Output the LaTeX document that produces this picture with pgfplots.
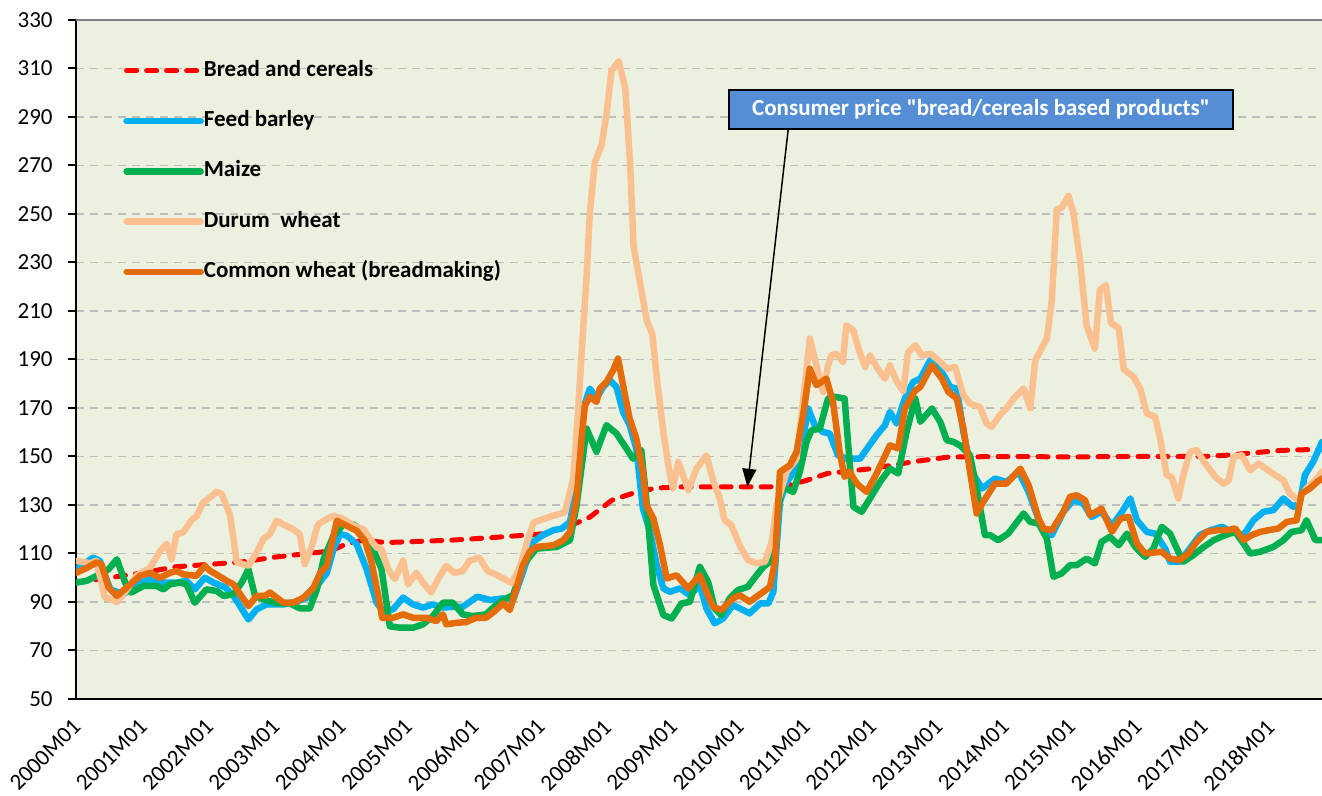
\documentclass[border=0pt]{standalone}
\usepackage{pgfplots}
\pgfplotsset{compat=1.18}
\usepackage{fontspec}
\setmainfont{Carlito}
\newfontfamily\nomapfont{Carlito}[Ligatures=TeXOff]
\usetikzlibrary{arrows.meta}
\definecolor{bgc}{RGB}{235,241,222}
\definecolor{gridc}{RGB}{190,190,190}
\definecolor{cbarley}{RGB}{0,176,240}
\definecolor{cmaize}{RGB}{0,176,80}
\definecolor{cdurum}{RGB}{250,192,144}
\definecolor{cwheat}{RGB}{228,108,10}
\definecolor{cbox}{RGB}{85,142,213}
\newcommand\fs{\fontsize{11.5}{13.8}\selectfont}
\begin{document}
\begin{tikzpicture}
\path[use as bounding box] (0,0) rectangle (661pt,398pt);
\begin{axis}[
  at={(38pt,48.5pt)}, anchor=south west,
  scale only axis, width=623pt, height=339.5pt,
  xmin=0, xmax=225.5, ymin=50, ymax=330,
  axis x line*=bottom, axis y line*=left,
  axis line style={black, line width=1pt, -},
  axis background/.style={fill=bgc},
  ytick={50,70,...,330},
  xtick={0,12,...,216},
  xticklabels={2000M01,2001M01,2002M01,2003M01,2004M01,2005M01,2006M01,2007M01,2008M01,2009M01,2010M01,2011M01,2012M01,2013M01,2014M01,2015M01,2016M01,2017M01,2018M01},
  ymajorgrids,
  major grid style={color=gridc, line width=0.85pt, dash pattern=on 4pt off 3pt},
  tick align=outside,
  major tick length=4pt,
  y tick style={black, line width=1pt},
  x tick style={draw=none},
  /pgf/number format/assume math mode=true,
  ticklabel style={font=\fs, black},
  yticklabel style={inner sep=0pt, xshift=-7.5pt},
  xticklabel style={inner sep=0pt, xshift=0.5pt, yshift=-8pt, rotate=45, anchor=east},
  legend style={at={(0.0377,0.941)}, anchor=north west, draw=none, fill=none,
    font=\fs\bfseries, row sep=14.6pt, inner sep=0pt,
    nodes={inner sep=0pt, text height=8pt, text depth=2.5pt},
    /tikz/every even column/.append style={column sep=1.5pt}},
  legend image code/.code={\draw[#1] (0pt,0pt) -- (37pt,0pt);},
  legend cell align=left,
  every axis plot/.append style={line join=round, line cap=round},
]
% Bread and cereals
\addplot[red, line width=2.5pt, dash pattern=on 5pt off 5pt] coordinates {
(0,98) (6,100) (12,102) (18,104.5) (24,105.5) (30,106.5) (36,108.5) (42,110) (46,111) (49,114) (52,115.5) (56,114.5) (62,115) (68,115.5) (75,116.5) (84,118) (89,121) (93,125) (97,132) (101,135) (105,137) (110,137.5) (120,137.5) (128,137.5) (132,140) (136,143) (144,145) (152,148) (158,149.8) (170,150) (180,149.8) (190,150) (200,150) (204,150) (208,150.5) (213,151.5) (218,152.5) (225.5,153)
};
\addlegendentry{Bread and cereals}
% Feed barley
\addplot[cbarley, line width=3.25pt] coordinates {
(0,103.5) (3.1,108.3) (4.3,107) (6.2,95.2) (8.6,93.2) (11,97.3) (13.4,99.4) (15.8,98) (18.2,98) (20,98.7) (21.5,95.2) (23.3,100) (24.9,98) (27,96) (28.5,92.5) (29.7,88.3) (31.2,82.8) (32.7,87) (34.5,89) (37.5,89) (39.3,89.7) (41.8,91.8) (43.6,96.6) (45.4,102) (46.6,111.8) (47.8,118) (49,117.3) (50.8,113.9) (52.6,103.5) (54.4,89.7) (55.6,86.3) (57.4,87) (59.2,91.8) (61,89) (62.8,87.7) (64.6,89) (66.4,87.7) (68.2,88) (70,88) (72.6,92.2) (75,90.8) (77.3,91.5) (79.1,90.8) (80.9,102.4) (82.7,114.8) (84.5,117.6) (86.4,119.6) (87.9,120.3) (89.4,123) (90.6,138.2) (91.8,169.8) (93,178) (94.2,173.9) (95.4,178.7) (96.6,181.4) (97.8,178.7) (99,168.4) (100.2,162.9) (101.4,153.3) (102.6,128.5) (103.9,118.9) (105.1,105.2) (106.3,95.6) (107.5,94.2) (109.3,95.6) (111.1,92.8) (112.9,96.9) (114.1,87.3) (115.6,81.2) (117.1,83.2) (118.9,88.7) (120.7,86.7) (121.9,85.3) (123.8,89.4) (125.3,89.4) (126.2,94.2) (127.4,131.3) (128.6,139.5) (130.4,145) (131.6,157.4) (132.5,169.8) (133.7,162.9) (135.2,160.1) (136.4,159.5) (137.9,150.5) (139.4,149.1) (141.9,149.1) (143.4,154) (144.9,158.8) (146.4,162.9) (147.3,168.4) (148.5,163.6) (150,173.9) (151.5,180.7) (152.8,182.1) (154.6,189.7) (156.7,184.9) (158.2,178.7) (159.4,178) (160.6,160.1) (162.1,143.7) (164,136.8) (166.3,140.9) (168.4,139.5) (170.6,143.7) (172.4,135.4) (174.8,120.3) (176.6,117.6) (178.7,127.2) (180.5,132) (182.3,130.6) (183.8,125.1) (185.6,127.2) (187.5,121.5) (189.3,127.2) (190.8,132.7) (192,123.7) (193.8,118.9) (195.3,118.2) (197.1,112.1) (198,106.6) (199.8,106.6) (201.6,112.1) (203.4,117.6) (205.3,119.6) (207.4,121) (209.2,118.9) (211.3,117.6) (213.1,123.7) (214.9,127.2) (216.7,127.9) (218.5,132.7) (220.3,129.2) (221.5,131.3) (222.4,142.3) (223.9,147.8) (225.5,156)
};
\addlegendentry{Feed barley}
% Maize
\addplot[cmaize, line width=3.25pt] coordinates {
(0,98) (1.9,98.7) (4.3,101.4) (5.9,103.5) (7.4,107.6) (8.9,98) (10,93.9) (12.2,96.6) (14.6,96.6) (15.8,95.2) (17,97.3) (18.8,98) (20,97.3) (21.5,89.7) (23.6,95.2) (25.5,94.5) (26.7,92.5) (28.5,93.2) (30,98) (31.2,103.5) (32.4,92.5) (33.9,91.1) (36.3,89.5) (38.7,89.4) (40.5,87.4) (42.3,87.4) (43.6,95.2) (44.8,107.6) (46.6,117.3) (48.4,122) (50.2,122) (52,118.7) (53.8,111.8) (55.3,103.5) (56.8,80) (58.6,79.4) (61,79.4) (62.8,80.8) (64.6,84.2) (66.4,89.7) (68.2,89.7) (70,84.9) (71.8,84.2) (74.2,84.9) (75.8,88.3) (77.3,90.8) (79.1,92.8) (80.9,105.2) (83.3,112) (87,112.7) (89.4,115.5) (90.6,129.9) (92.4,161.5) (94.2,151.9) (96,162.9) (97.8,159.5) (99.6,153.3) (100.8,149.1) (102.3,152.6) (103.2,132.7) (104.5,97) (106.3,84.6) (107.8,83.2) (109.6,89.4) (111.1,90.1) (112.9,104.5) (114.4,98.3) (115.6,87.3) (116.8,84.6) (118.3,91.5) (119.8,94.9) (121.6,96.3) (123.2,101.1) (124.4,104.5) (125.6,106.6) (126.5,118.9) (127.7,137.5) (129.8,135.4) (131,143.7) (132.2,156) (133.1,160.8) (134.6,161.5) (136.1,173.9) (137.3,174.6) (139.1,173.9) (140,147.8) (140.7,129.2) (142.2,127.2) (143.7,132.7) (145.5,139.5) (147.3,145) (148.8,143) (150.3,160.1) (151.9,173.9) (152.8,164.3) (154.9,169.8) (156.4,164.3) (157.6,156.7) (158.8,156) (160,154.6) (161.8,150.5) (163,136.8) (164.5,117.6) (165.4,117.6) (166.9,115.5) (168.7,118.2) (170.3,123) (171.5,126.5) (172.7,123) (174.2,122.4) (175.7,116.2) (176.9,100.4) (178.4,101.8) (179.9,105.2) (181.1,105.2) (182.9,107.9) (184.4,105.9) (185.6,114.8) (187.1,116.9) (188.7,113.4) (190.2,118.2) (191.7,112.7) (193.5,108.6) (195,112.1) (196.5,121) (198,118.2) (199.5,110.7) (200.4,106.6) (202.2,109.3) (204.1,112.7) (205.9,115.5) (208,117.6) (209.8,118.9) (211.3,114.1) (212.5,110) (214.3,110.7) (216.7,112.7) (218.5,115.5) (220,118.9) (221.8,119.6) (222.7,123.7) (224.3,115.5) (225.5,115.5)
};
\addlegendentry{Maize}
% Durum wheat
\addplot[cdurum, line width=3.25pt] coordinates {
(0,107) (2.5,106) (3.7,107) (5.2,92) (7.4,90) (9.2,95) (11,101) (13.4,104) (15.2,111) (16.4,114) (17.3,107.6) (18.2,118) (19.4,118.7) (21,124) (21.8,125.3) (23,131) (24.2,133) (25.5,135.5) (26.4,134.5) (27.9,125.6) (29.1,106.3) (31.2,105) (32.7,110.3) (33.9,116) (35.1,118) (36.3,123.5) (37.5,122) (39.3,120) (40.5,118) (41.4,105.6) (42.6,112.5) (43.8,122) (45.4,124.2) (46.6,125.6) (48.4,124.2) (50.8,120.8) (52,120) (53.2,116) (54.4,112.5) (55.3,111.8) (56.5,103.5) (57.7,99.4) (59.2,107) (60.1,97.3) (61.6,102) (62.8,98) (64.3,93.9) (65.5,99.4) (67,104.9) (68.5,102) (70,102.8) (71.2,107) (73,108.3) (74.5,102.8) (76.1,101.2) (78.9,97.8) (80.4,104.7) (81.6,114.4) (82.8,122.8) (84.6,124.2) (86.4,125.6) (88.5,127) (90,140.9) (90.9,169.8) (91.5,192.2) (92.4,224.2) (93,250.6) (93.9,271.4) (95.1,278.3) (96,290.8) (96.9,308.9) (98.2,313) (99.4,302) (100.3,270) (100.9,236.7) (102.1,221.4) (103.3,206.1) (104.3,200.6) (105.2,180.7) (106.3,160.1) (107.2,146.4) (108,136.8) (109,147.8) (110.8,136.1) (112.3,145) (114.1,150.5) (115.3,140.2) (116.5,132.7) (117.4,123.7) (118.6,121.7) (120.1,113.4) (121.6,107.3) (123.2,105.9) (124.7,106.6) (125.9,114.8) (126.8,129.9) (128.6,143.7) (130.4,149.1) (131.9,179.4) (132.8,198.6) (134,187.6) (135.2,176.6) (136.1,187.6) (136.7,191.7) (137.6,192.4) (138.8,189) (139.4,204.1) (140.7,202) (141.6,194.5) (142.8,186.9) (143.7,191.7) (144.9,186.9) (146.4,182.1) (147.3,187.6) (148.5,181) (149.7,177) (150.6,193) (151.9,195.9) (153.1,191.7) (154.6,192.4) (156.4,189) (157.6,186.2) (159.1,186.9) (160.6,175.2) (161.8,171.8) (163.6,170.4) (164.8,163.6) (165.7,162.2) (167.2,167) (168.4,169.8) (169.7,173.9) (171.5,178) (172.7,169.8) (173.6,189.7) (175.7,198.6) (176.6,214.4) (177.5,251.9) (178.4,252.6) (179.6,257.5) (180.5,250.6) (181.7,231.1) (182.9,204) (184.4,194.5) (185.3,218.6) (186.4,220.7) (187.3,205) (188.7,203) (189.6,186) (191.4,182.8) (192.6,178) (193.8,167.7) (195.3,166.3) (196.2,157.4) (197.4,142.3) (198.3,141.6) (199.5,132.7) (200.4,142.3) (201.6,151.9) (202.8,152.6) (204.6,146.4) (206.2,141.6) (207.7,138.8) (208.6,140.2) (209.5,149.8) (211,150.5) (212.5,144.3) (214,147.1) (216.1,143.7) (218.5,140.2) (219.7,134.7) (221.2,132) (222.7,136.8) (224.6,140.9) (225.5,143.7)
};
\addlegendentry{Durum~ wheat}
% Common wheat
\addplot[cwheat, line width=3.25pt] coordinates {
(0,102) (1.9,104) (3.7,106.3) (4.6,105.6) (5.9,96) (7.4,92.5) (9.5,96.6) (11.6,100.8) (13.4,102) (15.2,100) (17,102) (18.2,102.8) (19.4,101.4) (21.8,100.8) (23.3,104.9) (24.3,102.8) (25.8,100.8) (27.3,98.7) (28.5,97.3) (29.7,93.2) (31.2,88.3) (32.7,92.5) (34.2,92.5) (35.1,93.9) (37.5,89.8) (39.3,89.7) (41.2,91.8) (43,96) (44.2,102) (45.4,104.9) (47.2,123.5) (49,121.4) (50.8,119.4) (52.3,115.2) (53.5,106.3) (54.7,92.5) (55.4,83.5) (57.4,83.5) (59.2,84.9) (61,83.5) (63.4,83.5) (65.2,82.1) (66.4,84.9) (67,80.8) (68.8,81.4) (70.6,81.7) (72.4,83.5) (74.2,83.5) (75.8,86.3) (77.3,89.4) (78.5,86.7) (79.7,95.6) (80.9,105.2) (82.1,110.7) (83.3,112.7) (86.4,113.4) (88.2,115.5) (89.4,118.9) (90.6,132.7) (91.5,157.4) (92.1,171) (93,174.6) (94.2,172.5) (94.8,178) (96,180.7) (97.2,185.5) (98.1,190.4) (99,179.4) (100.2,165.6) (101.4,157.4) (102.6,143.7) (103.2,130) (104.5,124.4) (105.7,113.4) (106.9,99.7) (108.7,101) (110.8,95.6) (112.9,101) (114.1,94.2) (115.3,88) (116.8,86.7) (118.9,91.5) (120.1,92.8) (121.9,90.1) (124.4,94.2) (125.6,96.3) (126.5,106.6) (127.4,143.7) (129.2,146.4) (130.4,151.9) (131.6,167) (132.8,186.2) (134,179.4) (135.8,182.1) (137,172.5) (138.2,151.9) (139.1,141.6) (140,143.7) (141.3,138.8) (143.1,135.4) (144.9,143) (147.3,154.6) (148.8,153.3) (150,169.8) (151.8,177) (152.8,178.7) (154.9,187.6) (156.7,182.1) (157.9,176.6) (159.4,173.9) (160.6,161.5) (161.8,143.7) (163,126.5) (164.2,131.3) (166.3,138.8) (168.4,138.8) (170.9,145) (172.4,138.2) (174.2,124.4) (175.1,120.3) (176.6,119.6) (178.7,127.2) (179.9,133.4) (181.1,134) (182.6,132) (183.5,125.8) (185.6,128.5) (187.5,119) (189,124.4) (190.5,125.1) (192,114.1) (193.5,110) (196.5,110.7) (198,107.9) (199.8,107.3) (201.3,110) (202.8,114.8) (204.6,118.9) (206.5,119.6) (208.3,119.6) (209.8,120.3) (211.3,115.5) (212.8,117.6) (214.3,118.9) (215.8,119.6) (217.6,120.3) (219.1,123) (220.9,123.7) (221.8,134.7) (223.3,136.8) (224.6,139.5) (225.5,140.9)
};
\addlegendentry{Common wheat (breadmaking)}
\draw[black, line width=0.75pt, -{Triangle[width=7pt,length=9pt]}] (axis cs:128.9,285) -- (axis cs:121.5,137.5);
\node[fill=cbox, draw=black, line width=1pt, text=white, font=\fs\nomapfont\bfseries,
  minimum width=252pt, minimum height=19.5pt, inner sep=0pt] at (axis cs:163.8,293) {Consumer price "bread/cereals based products"};
\draw[gray, line width=1pt] (rel axis cs:0,1) -- (rel axis cs:1,1);
\end{axis}
\end{tikzpicture}
\end{document}
